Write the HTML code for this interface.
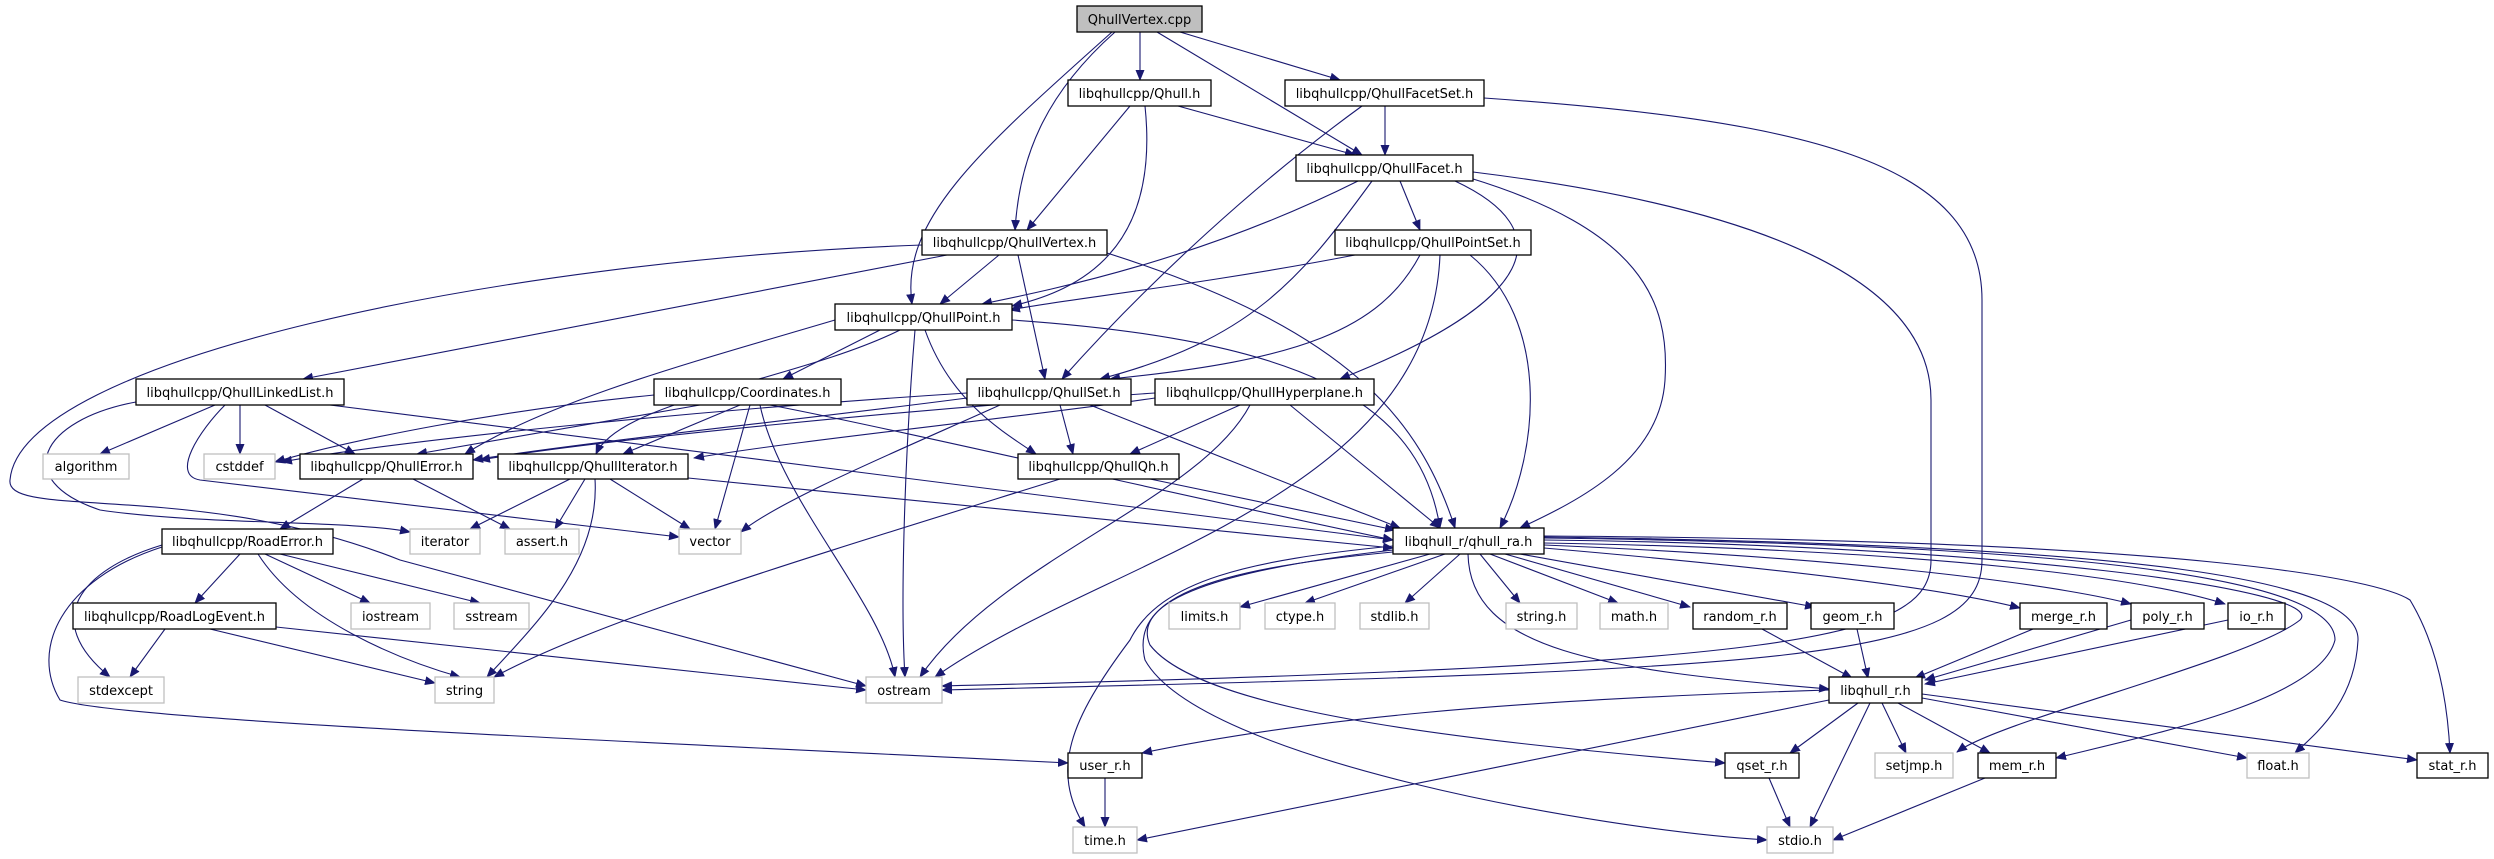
<!DOCTYPE html>
<html><head><meta charset="utf-8"><style>
html,body{margin:0;padding:0;background:#fff}
svg{display:block}
text{font-family:"DejaVu Sans","Liberation Sans",sans-serif;font-size:13px;text-anchor:middle;fill:#000}
.e{fill:none;stroke:#191970;stroke-width:1.1}
.n{fill:#fff;stroke:#000;stroke-width:1.3}
.x{fill:#fff;stroke:#bfbfbf;stroke-width:1.3}
</style></head><body>
<svg width="2494" height="859" viewBox="0 0 2494 859" xmlns="http://www.w3.org/2000/svg">
<defs><marker id="a" markerWidth="11" markerHeight="9" refX="10" refY="4.5" orient="auto" markerUnits="userSpaceOnUse"><path d="M0,0 L11,4.5 L0,9 z" fill="#191970"/></marker></defs>
<g class="e" marker-end="url(#a)">
<path d="M1140,32 L1140,80"/>
<path d="M1180,32 L1340,80"/>
<path d="M1157,32 L1362,155"/>
<path d="M1115,32 C1050,90 1020,150 1015,230"/>
<path d="M1112,32 C980,150 900,220 912,304"/>
<path d="M1178,106 L1355,155"/>
<path d="M1130,106 L1027,230"/>
<path d="M1145,106 C1160,250 1080,290 1012,306"/>
<path d="M1385,106 L1385,155"/>
<path d="M1362,106 C1260,180 1150,280 1062,379"/>
<path d="M1484,98 C1800,120 1982,160 1982,300 L1982,560 C1982,660 1800,670 942,690"/>
<path d="M1358,181 C1200,260 1050,290 982,304"/>
<path d="M1372,181 C1300,280 1250,340 1100,379"/>
<path d="M1400,181 L1420,230"/>
<path d="M1455,181 C1560,230 1540,300 1340,379"/>
<path d="M1470,178 C1640,230 1670,300 1665,380 C1660,460 1580,500 1520,528"/>
<path d="M1473,172 C1700,200 1931,260 1931,400 L1931,560 C1931,640 1800,665 942,686"/>
<path d="M1355,255 C1200,285 1060,300 1010,310"/>
<path d="M1420,255 C1380,330 1300,360 1110,379"/>
<path d="M1440,255 C1430,500 1100,560 935,677"/>
<path d="M1470,255 C1550,320 1540,450 1500,528"/>
<path d="M999,255 L940,304"/>
<path d="M1018,255 L1045,379"/>
<path d="M1107,253 C1350,330 1420,420 1455,528"/>
<path d="M947,255 L303,379"/>
<path d="M922,245 C500,260 20,360 10,480 C5,520 200,480 400,560 L866,686"/>
<path d="M880,330 L783,379"/>
<path d="M835,320 C700,360 550,400 465,454"/>
<path d="M900,330 C800,380 620,400 596,454"/>
<path d="M915,330 C905,450 900,600 905,677"/>
<path d="M925,330 C950,400 1000,430 1036,454"/>
<path d="M1012,320 C1300,340 1420,400 1440,528"/>
<path d="M215,405 L100,454"/>
<path d="M240,405 L240,454"/>
<path d="M265,405 L355,454"/>
<path d="M136,402 C40,420 10,480 100,510 C200,525 350,520 410,532"/>
<path d="M225,405 C200,430 170,475 200,480 L679,537"/>
<path d="M330,405 L1393,540"/>
<path d="M654,395 C500,410 350,440 275,462"/>
<path d="M700,405 L417,454"/>
<path d="M740,405 L623,454"/>
<path d="M750,405 L715,529"/>
<path d="M760,405 C780,500 880,600 895,677"/>
<path d="M770,405 C900,430 1200,500 1393,540"/>
<path d="M967,393 C700,410 400,440 282,462"/>
<path d="M967,398 C800,420 600,440 473,460"/>
<path d="M1060,405 L1073,454"/>
<path d="M1000,405 C900,450 780,500 741,532"/>
<path d="M1090,405 L1400,528"/>
<path d="M1155,393 C900,410 600,440 480,460"/>
<path d="M1155,398 C1000,420 800,440 694,458"/>
<path d="M1240,405 L1130,454"/>
<path d="M1250,405 C1200,500 1000,560 920,677"/>
<path d="M1290,405 L1440,528"/>
<path d="M363,479 L280,529"/>
<path d="M413,479 L510,529"/>
<path d="M570,479 L470,529"/>
<path d="M585,479 L555,529"/>
<path d="M610,479 L690,529"/>
<path d="M595,479 C600,560 540,620 487,677"/>
<path d="M688,478 L1393,548"/>
<path d="M1060,479 C800,560 600,620 494,677"/>
<path d="M1150,479 L1395,530"/>
<path d="M240,554 L195,603"/>
<path d="M258,554 C300,620 400,660 460,677"/>
<path d="M265,554 L370,603"/>
<path d="M280,554 L480,603"/>
<path d="M162,545 C80,570 40,620 110,677"/>
<path d="M162,547 C60,580 30,650 60,700 C120,720 600,740 1068,763"/>
<path d="M165,629 L130,677"/>
<path d="M210,629 L435,683"/>
<path d="M276,627 L866,690"/>
<path d="M1430,554 L1240,607"/>
<path d="M1445,554 L1305,603"/>
<path d="M1460,554 L1405,603"/>
<path d="M1480,554 L1520,603"/>
<path d="M1490,554 L1618,603"/>
<path d="M1505,554 L1690,607"/>
<path d="M1520,554 L1815,607"/>
<path d="M1544,548 C1800,570 1950,590 2020,608"/>
<path d="M1544,545 C1900,560 2080,590 2131,604"/>
<path d="M1544,543 C1950,550 2150,580 2225,604"/>
<path d="M1468,554 C1470,650 1600,670 1829,689"/>
<path d="M1393,546 C1250,560 1160,580 1130,640 C1070,720 1050,770 1085,827"/>
<path d="M1393,552 C1200,570 1130,600 1145,660 C1200,760 1600,830 1767,840"/>
<path d="M1393,550 C1220,570 1130,600 1150,645 C1200,710 1450,740 1725,763"/>
<path d="M1544,540 C2000,545 2330,590 2300,620 C2250,660 2000,720 1957,752"/>
<path d="M1544,538 C2100,545 2335,580 2335,640 C2320,700 2150,735 2056,758"/>
<path d="M1544,537 C2150,545 2360,580 2358,640 C2355,700 2320,730 2295,753"/>
<path d="M1544,536 C2200,540 2380,580 2410,600 C2440,650 2448,710 2450,753"/>
<path d="M1762,629 L1852,678"/>
<path d="M1857,629 L1868,678"/>
<path d="M2033,629 L1915,678"/>
<path d="M2131,620 L1925,680"/>
<path d="M2228,620 L1925,684"/>
<path d="M1858,703 L1790,753"/>
<path d="M1870,703 L1810,827"/>
<path d="M1882,703 L1906,753"/>
<path d="M1898,703 L1990,753"/>
<path d="M1922,698 L2247,758"/>
<path d="M1922,694 L2417,760"/>
<path d="M1829,690 C1500,700 1300,720 1142,753"/>
<path d="M1829,700 L1137,840"/>
<path d="M1769,778 L1790,827"/>
<path d="M1985,778 L1833,840"/>
<path d="M1105,778 L1105,827"/>
</g>
<g>
<rect x="1077" y="6" width="125" height="26" fill="#bfbfbf" stroke="#000" stroke-width="1.3"/><text x="1139.5" y="24">QhullVertex.cpp</text>
<rect class="n" x="1068" y="80" width="143" height="26"/><text x="1139.5" y="98">libqhullcpp/Qhull.h</text>
<rect class="n" x="1285" y="80" width="199" height="26"/><text x="1384.5" y="98">libqhullcpp/QhullFacetSet.h</text>
<rect class="n" x="1296" y="155" width="177" height="26"/><text x="1384.5" y="173">libqhullcpp/QhullFacet.h</text>
<rect class="n" x="922" y="230" width="185" height="25"/><text x="1014.5" y="247">libqhullcpp/QhullVertex.h</text>
<rect class="n" x="1335" y="230" width="196" height="25"/><text x="1433" y="247">libqhullcpp/QhullPointSet.h</text>
<rect class="n" x="835" y="304" width="177" height="26"/><text x="923.5" y="322">libqhullcpp/QhullPoint.h</text>
<rect class="n" x="136" y="379" width="208" height="26"/><text x="240" y="397">libqhullcpp/QhullLinkedList.h</text>
<rect class="n" x="654" y="379" width="187" height="26"/><text x="747.5" y="397">libqhullcpp/Coordinates.h</text>
<rect class="n" x="967" y="379" width="164" height="26"/><text x="1049" y="397">libqhullcpp/QhullSet.h</text>
<rect class="n" x="1155" y="379" width="219" height="26"/><text x="1264.5" y="397">libqhullcpp/QhullHyperplane.h</text>
<rect class="x" x="43" y="454" width="86" height="25"/><text x="86" y="471">algorithm</text>
<rect class="x" x="204" y="454" width="71" height="25"/><text x="239.5" y="471">cstddef</text>
<rect class="n" x="300" y="454" width="173" height="25"/><text x="386.5" y="471">libqhullcpp/QhullError.h</text>
<rect class="n" x="498" y="454" width="190" height="25"/><text x="593" y="471">libqhullcpp/QhullIterator.h</text>
<rect class="n" x="1018" y="454" width="161" height="25"/><text x="1098.5" y="471">libqhullcpp/QhullQh.h</text>
<rect class="n" x="162" y="529" width="171" height="25"/><text x="247.5" y="546">libqhullcpp/RoadError.h</text>
<rect class="x" x="410" y="529" width="70" height="25"/><text x="445" y="546">iterator</text>
<rect class="x" x="505" y="529" width="74" height="25"/><text x="542" y="546">assert.h</text>
<rect class="x" x="679" y="529" width="62" height="25"/><text x="710" y="546">vector</text>
<rect class="n" x="1393" y="528" width="151" height="26"/><text x="1468.5" y="546">libqhull_r/qhull_ra.h</text>
<rect class="n" x="73" y="603" width="203" height="26"/><text x="174.5" y="621">libqhullcpp/RoadLogEvent.h</text>
<rect class="x" x="351" y="603" width="79" height="26"/><text x="390.5" y="621">iostream</text>
<rect class="x" x="454" y="603" width="75" height="26"/><text x="491.5" y="621">sstream</text>
<rect class="x" x="1169" y="603" width="71" height="26"/><text x="1204.5" y="621">limits.h</text>
<rect class="x" x="1265" y="603" width="70" height="26"/><text x="1300" y="621">ctype.h</text>
<rect class="x" x="1360" y="603" width="69" height="26"/><text x="1394.5" y="621">stdlib.h</text>
<rect class="x" x="1506" y="603" width="71" height="26"/><text x="1541.5" y="621">string.h</text>
<rect class="x" x="1600" y="603" width="68" height="26"/><text x="1634" y="621">math.h</text>
<rect class="n" x="1693" y="603" width="94" height="26"/><text x="1740" y="621">random_r.h</text>
<rect class="n" x="1811" y="603" width="83" height="26"/><text x="1852.5" y="621">geom_r.h</text>
<rect class="n" x="2020" y="603" width="87" height="26"/><text x="2063.5" y="621">merge_r.h</text>
<rect class="n" x="2131" y="603" width="73" height="26"/><text x="2167.5" y="621">poly_r.h</text>
<rect class="n" x="2228" y="603" width="57" height="26"/><text x="2256.5" y="621">io_r.h</text>
<rect class="x" x="78" y="677" width="86" height="26"/><text x="121" y="695">stdexcept</text>
<rect class="x" x="435" y="677" width="59" height="26"/><text x="464.5" y="695">string</text>
<rect class="x" x="866" y="677" width="76" height="26"/><text x="904" y="695">ostream</text>
<rect class="n" x="1829" y="677" width="93" height="26"/><text x="1875.5" y="695">libqhull_r.h</text>
<rect class="n" x="1068" y="753" width="74" height="25"/><text x="1105" y="770">user_r.h</text>
<rect class="n" x="1725" y="753" width="74" height="25"/><text x="1762" y="770">qset_r.h</text>
<rect class="x" x="1875" y="753" width="78" height="25"/><text x="1914" y="770">setjmp.h</text>
<rect class="n" x="1978" y="753" width="78" height="25"/><text x="2017" y="770">mem_r.h</text>
<rect class="x" x="2247" y="753" width="62" height="25"/><text x="2278" y="770">float.h</text>
<rect class="n" x="2417" y="753" width="71" height="25"/><text x="2452.5" y="770">stat_r.h</text>
<rect class="x" x="1073" y="827" width="64" height="26"/><text x="1105" y="845">time.h</text>
<rect class="x" x="1767" y="827" width="66" height="26"/><text x="1800" y="845">stdio.h</text>
</g>
</svg>
</body></html>
